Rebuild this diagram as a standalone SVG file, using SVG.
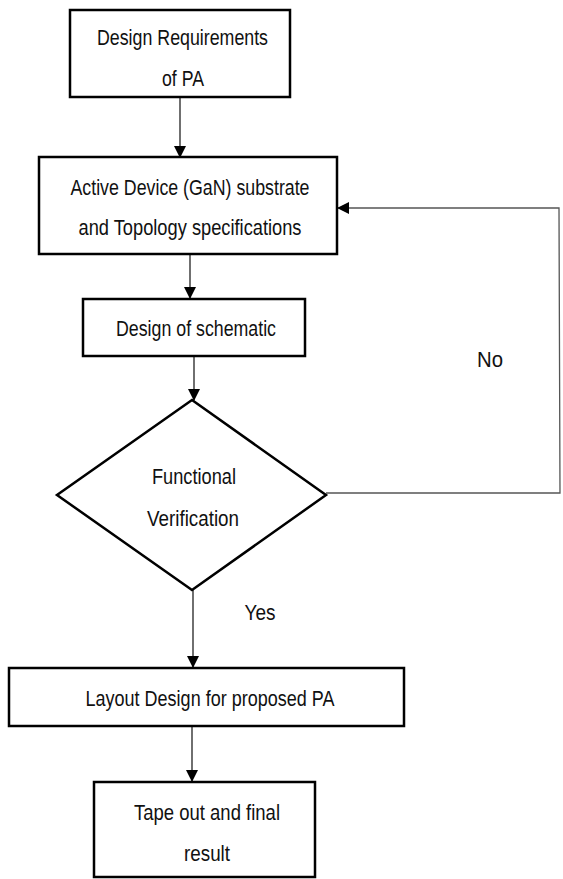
<svg xmlns="http://www.w3.org/2000/svg" width="563" height="879" viewBox="0 0 563 879">
<style>
.box{fill:#fff;stroke:#000;stroke-width:2.5}
.t{font-family:"Liberation Sans Narrow","Liberation Sans",Arial,sans-serif;font-size:22px;fill:#111;text-anchor:middle}
.c{fill:none;stroke:#222;stroke-width:1.3}
.fb{fill:none;stroke:#555;stroke-width:1.3}
</style>
<defs>
<marker id="ah" markerUnits="userSpaceOnUse" markerWidth="12" markerHeight="14" refX="11" refY="6" orient="auto">
<path d="M0,0 L12,6 L0,12 Z" fill="#000"/>
</marker>
</defs>
<rect width="563" height="879" fill="#fff"/>
<g id="connectors">
<line class="c" x1="180" y1="97" x2="180" y2="157" marker-end="url(#ah)"/>
<line class="c" x1="190" y1="254" x2="190" y2="298" marker-end="url(#ah)"/>
<line class="c" x1="194" y1="356" x2="194" y2="400" marker-end="url(#ah)"/>
<line class="c" x1="193" y1="590" x2="193" y2="667" marker-end="url(#ah)"/>
<line class="c" x1="192" y1="726" x2="192" y2="781" marker-end="url(#ah)"/>
<polyline class="fb" points="326,493 560,493 559,208 338,208" marker-end="url(#ah)"/>
<text class="t" x="490" y="367" textLength="26" lengthAdjust="spacingAndGlyphs">No</text>
<text class="t" x="260" y="620" textLength="31" lengthAdjust="spacingAndGlyphs">Yes</text>
</g>
<g id="n1">
<rect class="box" x="70" y="10" width="220" height="87"/>
<text class="t" x="182.5" y="45" textLength="171" lengthAdjust="spacingAndGlyphs">Design Requirements</text>
<text class="t" x="183" y="86" textLength="42" lengthAdjust="spacingAndGlyphs">of PA</text>
</g>
<g id="n2">
<rect class="box" x="39" y="157" width="298" height="97"/>
<text class="t" x="190" y="195" textLength="239" lengthAdjust="spacingAndGlyphs">Active Device (GaN) substrate</text>
<text class="t" x="190" y="235" textLength="223" lengthAdjust="spacingAndGlyphs">and Topology specifications</text>
</g>
<g id="n3">
<rect class="box" x="83" y="299" width="222" height="57"/>
<text class="t" x="196" y="336" textLength="160" lengthAdjust="spacingAndGlyphs">Design of schematic</text>
</g>
<g id="n4">
<polygon class="box" points="192,400 326,495 192,590 57,495"/>
<text class="t" x="194" y="484" textLength="84" lengthAdjust="spacingAndGlyphs">Functional</text>
<text class="t" x="193" y="526" textLength="92" lengthAdjust="spacingAndGlyphs">Verification</text>
</g>
<g id="n5">
<rect class="box" x="9" y="668" width="395" height="58"/>
<text class="t" x="210" y="706" textLength="249" lengthAdjust="spacingAndGlyphs">Layout Design for proposed PA</text>
</g>
<g id="n6">
<rect class="box" x="94" y="782" width="221" height="95"/>
<text class="t" x="207" y="820" textLength="146" lengthAdjust="spacingAndGlyphs">Tape out and final</text>
<text class="t" x="207" y="861" textLength="46" lengthAdjust="spacingAndGlyphs">result</text>
</g>
</svg>
